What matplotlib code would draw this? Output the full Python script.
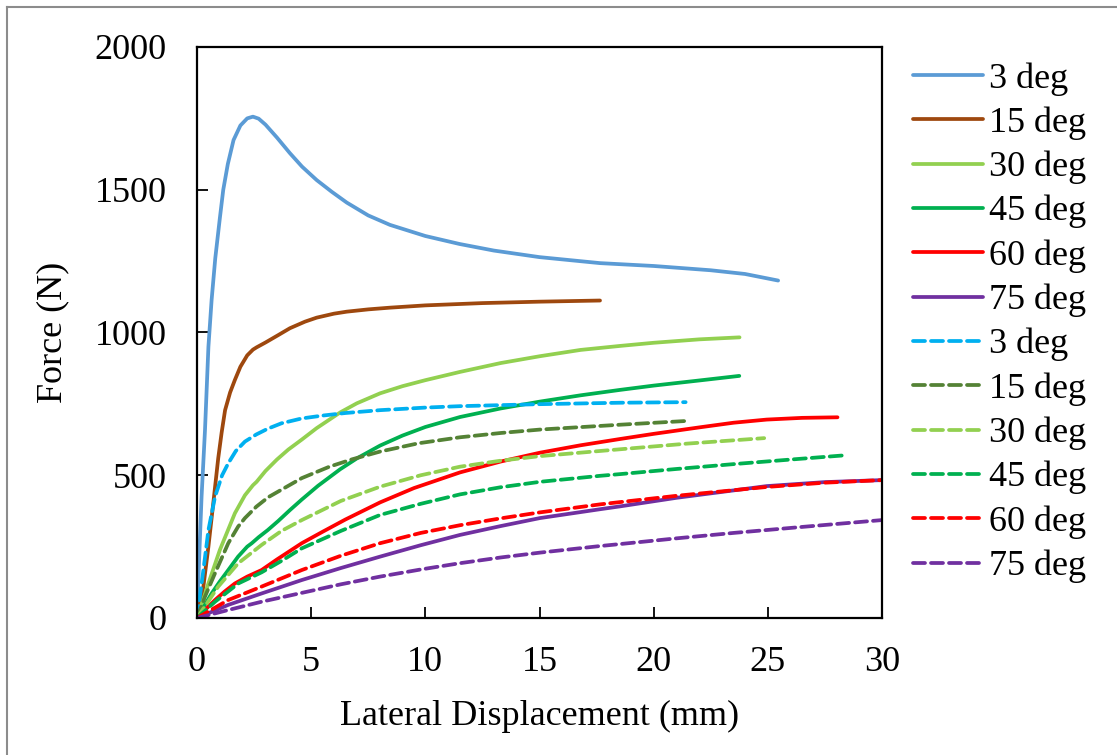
import matplotlib.pyplot as plt
from matplotlib.lines import Line2D

plt.rcParams['font.family'] = ['Liberation Serif', 'DejaVu Serif']
plt.rcParams['font.size'] = 26

# Force vs lateral displacement, solid curves
x_s3 = [0, 0.1, 0.2, 0.35, 0.5, 0.64, 0.8, 1.0, 1.15, 1.35, 1.6, 1.9, 2.2, 2.45, 2.7, 3.0, 3.5,
        4.07, 4.6, 5.24, 5.9, 6.56, 7.5, 8.45, 10, 11.5, 13, 15, 17.65, 20, 22.5, 24, 25.45]
y_s3 = [0, 220, 425, 658, 950, 1114, 1260, 1400, 1500, 1590, 1674, 1725, 1750, 1756, 1749, 1728, 1683,
        1628, 1581, 1534, 1493, 1455, 1410, 1377, 1338, 1310, 1287, 1264, 1243, 1233, 1218, 1205, 1182]

x_s15 = [0, 0.28, 0.5, 0.71, 0.93, 1.08, 1.23, 1.45, 1.66, 1.9, 2.2, 2.45, 2.61, 3.0, 3.56, 4.07,
         4.73, 5.24, 6.0, 6.56, 7.5, 8.45, 10, 12.5, 15, 17.65]
y_s15 = [0, 110, 250, 400, 560, 650, 728, 790, 834, 880, 920, 940, 948, 965, 991, 1015,
         1038, 1052, 1066, 1073, 1081, 1087, 1095, 1103, 1108, 1112]

x_s30 = [0, 0.25, 0.5, 1.0, 1.66, 2.1, 2.45, 2.61, 3.0, 3.5, 4.0, 4.59, 5.24, 6.27, 7.0, 8.02,
         9, 10, 11.52, 13.3, 15.02, 16.8, 18.53, 20, 22, 23.76]
y_s30 = [0, 60, 121, 238, 367, 430, 465, 477, 515, 555, 590, 625, 665, 720, 752, 787,
         812, 833, 862, 893, 917, 939, 953, 964, 976, 983]

x_s45 = [0, 0.3, 0.64, 1.0, 1.37, 1.8, 2.2, 2.4, 2.7, 3.1, 3.56, 4.07, 4.59, 5.3, 6.27, 7.0,
         8.02, 9, 10, 11.52, 13.3, 15.02, 16.8, 18.53, 20, 22, 23.75]
y_s45 = [0, 40, 86, 128, 168, 215, 250, 262, 283, 308, 340, 378, 415, 463, 521, 559,
         604, 639, 669, 704, 734, 758, 780, 799, 814, 832, 848]

x_s60 = [0, 0.4, 0.79, 1.2, 1.66, 2.2, 2.83, 3.5, 4.59, 5.5, 6.5, 8.02, 9.5, 11.52, 13.3, 15.02,
         16.8, 18.53, 20, 22.03, 23.5, 24.95, 26.5, 28.05]
y_s60 = [0, 32, 63, 92, 121, 145, 168, 205, 262, 302, 345, 405, 455, 510, 548, 579,
         605, 627, 645, 668, 684, 695, 701, 703]

x_s75 = [0, 1.37, 2.83, 4.59, 6.3, 8.02, 9.8, 11.52, 13.3, 15.02, 17.65, 18.53, 21, 24.95, 27.5, 30]
y_s75 = [0, 46, 86, 133, 175, 215, 255, 291, 322, 350, 381, 391, 421, 462, 476, 483]

# dashed curves
x_d3 = [0, 0.15, 0.28, 0.5, 0.79, 1.1, 1.37, 1.7, 2.1, 2.6, 3.1, 3.7, 4.59, 5.5, 6.5, 8.02,
        10, 11.52, 15.02, 18.53, 21.4]
y_d3 = [0, 90, 168, 308, 425, 500, 542, 585, 618, 643, 663, 682, 699, 709, 718, 728,
        737, 742, 749, 754, 756]

x_d15 = [0, 0.35, 0.79, 1.37, 1.8, 2.1, 2.6, 3.12, 4.59, 5.8, 6.8, 8.02, 9.7, 11.52, 13.3, 15.02,
         18.53, 21.4]
y_d15 = [0, 75, 157, 262, 320, 350, 390, 423, 490, 530, 556, 583, 612, 633, 648, 660,
         677, 690]

x_d30 = [0, 0.93, 1.81, 2.83, 3.7, 4.59, 6.3, 8.02, 9.8, 11.52, 13.3, 15.02, 17.65, 18.53, 21.5, 24.84]
y_d30 = [0, 110, 192, 256, 305, 343, 410, 460, 500, 530, 551, 567, 585, 591, 611, 630]

x_d45 = [0, 0.79, 1.81, 2.83, 3.7, 4.59, 6.3, 8.02, 9.8, 11.52, 13.3, 15.02, 17.65, 18.53, 21,
         23.5, 26, 28.24]
y_d45 = [0, 57, 121, 160, 200, 244, 305, 361, 400, 433, 458, 477, 498, 504, 522,
         539, 555, 569]

x_d60 = [0, 1.37, 2.83, 4.59, 6.3, 8.02, 9.8, 11.52, 13.3, 15.02, 17.65, 18.53, 21, 24.95, 27.5, 30]
y_d60 = [0, 63, 110, 168, 218, 262, 298, 325, 349, 370, 398, 406, 428, 459, 474, 483]

x_d75 = [0, 1.37, 2.83, 4.59, 6.3, 8.02, 9.8, 11.52, 13.3, 15.02, 17.65, 18.53, 21, 23.5, 26.5, 30]
y_d75 = [0, 28, 57, 88, 118, 145, 170, 192, 212, 229, 252, 259, 279, 298, 319, 343]

labels = ['3 deg', '15 deg', '30 deg', '45 deg', '60 deg', '75 deg']
solid = [(x_s3, y_s3, '#5B9BD5'), (x_s15, y_s15, '#9E480E'), (x_s30, y_s30, '#92D050'),
         (x_s45, y_s45, '#00B050'), (x_s60, y_s60, '#FF0000'), (x_s75, y_s75, '#7030A0')]
dashed = [(x_d3, y_d3, '#00B0F0'), (x_d15, y_d15, '#548235'), (x_d30, y_d30, '#92D050'),
          (x_d45, y_d45, '#00B050'), (x_d60, y_d60, '#FF0000'), (x_d75, y_d75, '#7030A0')]

fig = plt.figure(figsize=(11.17, 7.55), dpi=100)
ax = fig.add_axes([197 / 1117, 1 - 618 / 755, (882 - 197) / 1117, (618 - 47) / 755])

lw = 2.7
for (x, y, c), lab in zip(solid, labels):
    ax.plot(x, y, color=c, lw=lw, label=lab, solid_capstyle='round', solid_joinstyle='round')
for (x, y, c), lab in zip(dashed, labels):
    ax.plot(x, y, color=c, lw=lw, label=lab, dashes=(3.2, 1.6), dash_capstyle='round')

ax.set_xlim(0, 30)
ax.set_ylim(0, 2000)
ax.set_xticks(range(0, 31, 5))
ax.set_yticks(range(0, 2001, 500))
ax.tick_params(axis='both', direction='in', length=8, width=1.3, labelsize=26)
ax.tick_params(axis='x', pad=20)
ax.tick_params(axis='y', pad=22)
for sp in ax.spines.values():
    sp.set_linewidth(1.6)

ax.set_xlabel('Lateral Displacement (mm)', fontsize=26, labelpad=15)
ax.set_ylabel('Force (N)', fontsize=26, labelpad=18)

fig.legend(loc='upper left', bbox_to_anchor=(913 / 1117, 1 - 62 / 755), frameon=False,
           fontsize=26, handlelength=1.95, handletextpad=0.15, labelspacing=0.30,
           borderpad=0, borderaxespad=0)

# thin grey frame along the left and top edges
fig.add_artist(Line2D([7 / 1117, 7 / 1117], [0, 1 - 7 / 755], transform=fig.transFigure,
                      color='#8C8C8C', lw=1.5))
fig.add_artist(Line2D([7 / 1117, 1], [1 - 7 / 755, 1 - 7 / 755], transform=fig.transFigure,
                      color='#8C8C8C', lw=1.5))

fig.savefig('out.png', dpi=100)
